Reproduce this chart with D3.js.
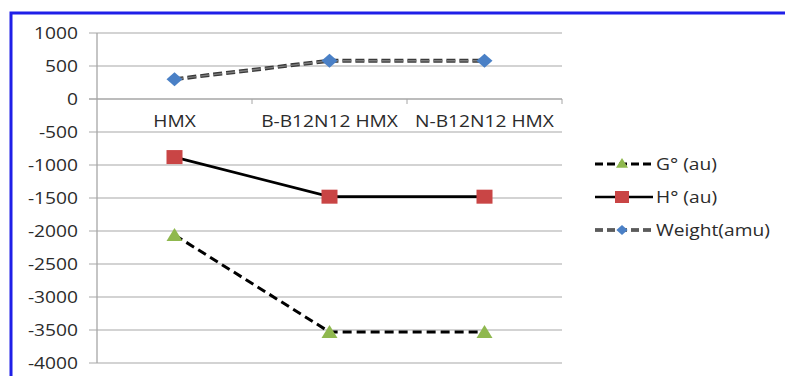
<!DOCTYPE html>
<html>
<head>
<meta charset="utf-8">
<script src="https://cdn.jsdelivr.net/npm/d3@7"></script>
<style>
  body { margin: 0; background: #fff; }
  text { font-family: "Open Sans", sans-serif; font-size: 16px; fill: #2b2b2b; }
</style>
</head>
<body>
<div class="chart_area"></div>
<script>
var categories = ["HMX", "B-B12N12 HMX", "N-B12N12 HMX"];
var gValues = [-2060, -3530, -3530];
var hValues = [-880, -1480, -1480];
var weightValues = [300, 580, 580];
var yTicks = [1000, 500, 0, -500, -1000, -1500, -2000, -2500, -3000, -3500, -4000];
var legendNames = ["G\u00b0 (au)", "H\u00b0 (au)", "Weight(amu)"];

var width = 785, height = 376;
var plot = {left: 97, right: 562, top: 33, bottom: 363};
var sx = 1.2; // text is drawn a bit wide, like the source

var svg = d3.select(".chart_area").append("svg")
    .attr("width", width)
    .attr("height", height);

// blue frame around the figure
svg.append("rect")
    .attr("x", 11).attr("y", 13)
    .attr("width", 800).attr("height", 400)
    .attr("fill", "none")
    .attr("stroke", "#1f1fe8")
    .attr("stroke-width", 3);

var x = d3.scaleBand()
    .domain(categories)
    .range([plot.left, plot.right]);

var y = d3.scaleLinear()
    .domain([-4000, 1000])
    .range([plot.bottom, plot.top]);

function wideText(g, px, py, txt, anchor) {
  g.append("text")
    .attr("transform", "translate(" + px + "," + py + ") scale(" + sx + ",1)")
    .attr("text-anchor", anchor)
    .text(txt);
}

// gridlines
svg.append("g").selectAll("line")
    .data(yTicks)
    .enter().append("line")
    .attr("x1", plot.left - 8)
    .attr("x2", plot.right)
    .attr("y1", function(d) { return y(d); })
    .attr("y2", function(d) { return y(d); })
    .attr("stroke", function(d) { return d === 0 ? "#a6a6a6" : "#c4c4c4"; })
    .attr("stroke-width", 1.3);

// y axis line
svg.append("line")
    .attr("x1", plot.left).attr("x2", plot.left)
    .attr("y1", plot.top).attr("y2", plot.bottom)
    .attr("stroke", "#a6a6a6").attr("stroke-width", 1.3);

// y tick labels
var yLab = svg.append("g");
yTicks.forEach(function(d) {
  wideText(yLab, 78, y(d) + 5.5, d, "end");
});

// category ticks on the zero line
var bounds = categories.slice(1).map(function(c) { return x(c); }).concat([plot.right]);
svg.append("g").selectAll("line")
    .data(bounds)
    .enter().append("line")
    .attr("x1", function(d) { return d; })
    .attr("x2", function(d) { return d; })
    .attr("y1", y(0))
    .attr("y2", y(0) + 5)
    .attr("stroke", "#a6a6a6");

// category labels
var xLab = svg.append("g");
categories.forEach(function(c) {
  wideText(xLab, x(c) + x.bandwidth() / 2, y(0) + 28, c, "middle");
});

function cx(i) { return x(categories[i]) + x.bandwidth() / 2; }

var line = d3.line()
    .x(function(d, i) { return cx(i); })
    .y(function(d) { return y(d); });

// G line
svg.append("path")
    .attr("d", line(gValues))
    .attr("fill", "none")
    .attr("stroke", "#000")
    .attr("stroke-width", 3)
    .attr("stroke-dasharray", "9,5");

// H line
svg.append("path")
    .attr("d", line(hValues))
    .attr("fill", "none")
    .attr("stroke", "#000")
    .attr("stroke-width", 2.7);

// Weight line, dark edge with grey middle
svg.append("path")
    .attr("d", line(weightValues))
    .attr("fill", "none")
    .attr("stroke", "#3a3a3a")
    .attr("stroke-width", 4)
    .attr("stroke-dasharray", "9,4");
svg.append("path")
    .attr("d", line(weightValues))
    .attr("fill", "none")
    .attr("stroke", "#7d7d7d")
    .attr("stroke-width", 1.4)
    .attr("stroke-dasharray", "9,4");

function triangle(px, py) {
  return "M" + px + "," + (py - 7) + "L" + (px + 8) + "," + (py + 6) + "L" + (px - 8) + "," + (py + 6) + "Z";
}
function diamond(px, py) {
  return "M" + px + "," + (py - 7) + "L" + (px + 8) + "," + py + "L" + px + "," + (py + 7) + "L" + (px - 8) + "," + py + "Z";
}

svg.append("g").selectAll("path")
    .data(gValues)
    .enter().append("path")
    .attr("d", function(d, i) { return triangle(cx(i), y(d)); })
    .attr("fill", "#8fb84e");

svg.append("g").selectAll("rect")
    .data(hValues)
    .enter().append("rect")
    .attr("x", function(d, i) { return cx(i) - 8; })
    .attr("y", function(d) { return y(d) - 7; })
    .attr("width", 16).attr("height", 14)
    .attr("fill", "#c94545");

svg.append("g").selectAll("path")
    .data(weightValues)
    .enter().append("path")
    .attr("d", function(d, i) { return diamond(cx(i), y(d)); })
    .attr("fill", "#4a80c6");

// legend
var lg = svg.append("g");
var rowY = [164, 197, 230];
var lx1 = 595, lx2 = 653, lmid = 622;

lg.append("line").attr("x1", lx1).attr("x2", lx2).attr("y1", rowY[0]).attr("y2", rowY[0])
    .attr("stroke", "#000").attr("stroke-width", 3).attr("stroke-dasharray", "8,4");
lg.append("path").attr("d", triangle(lmid, rowY[0] - 1)).attr("fill", "#8fb84e")
    .attr("transform", "translate(" + lmid + "," + rowY[0] + ") scale(0.75) translate(" + (-lmid) + "," + (-rowY[0]) + ")");

lg.append("line").attr("x1", lx1).attr("x2", lx2).attr("y1", rowY[1]).attr("y2", rowY[1])
    .attr("stroke", "#000").attr("stroke-width", 2.7);
lg.append("rect").attr("x", lmid - 7).attr("y", rowY[1] - 6).attr("width", 14).attr("height", 12)
    .attr("fill", "#c94545");

lg.append("line").attr("x1", lx1).attr("x2", lx2).attr("y1", rowY[2]).attr("y2", rowY[2])
    .attr("stroke", "#3a3a3a").attr("stroke-width", 3.6).attr("stroke-dasharray", "8,4");
lg.append("line").attr("x1", lx1).attr("x2", lx2).attr("y1", rowY[2]).attr("y2", rowY[2])
    .attr("stroke", "#7d7d7d").attr("stroke-width", 1.2).attr("stroke-dasharray", "8,4");
lg.append("path").attr("d", diamond(lmid, rowY[2])).attr("fill", "#4a80c6")
    .attr("transform", "translate(" + lmid + "," + rowY[2] + ") scale(0.7) translate(" + (-lmid) + "," + (-rowY[2]) + ")");

legendNames.forEach(function(n, i) {
  wideText(lg, 656, rowY[i] + 5.5, n, "start");
});
</script>
</body>
</html>
